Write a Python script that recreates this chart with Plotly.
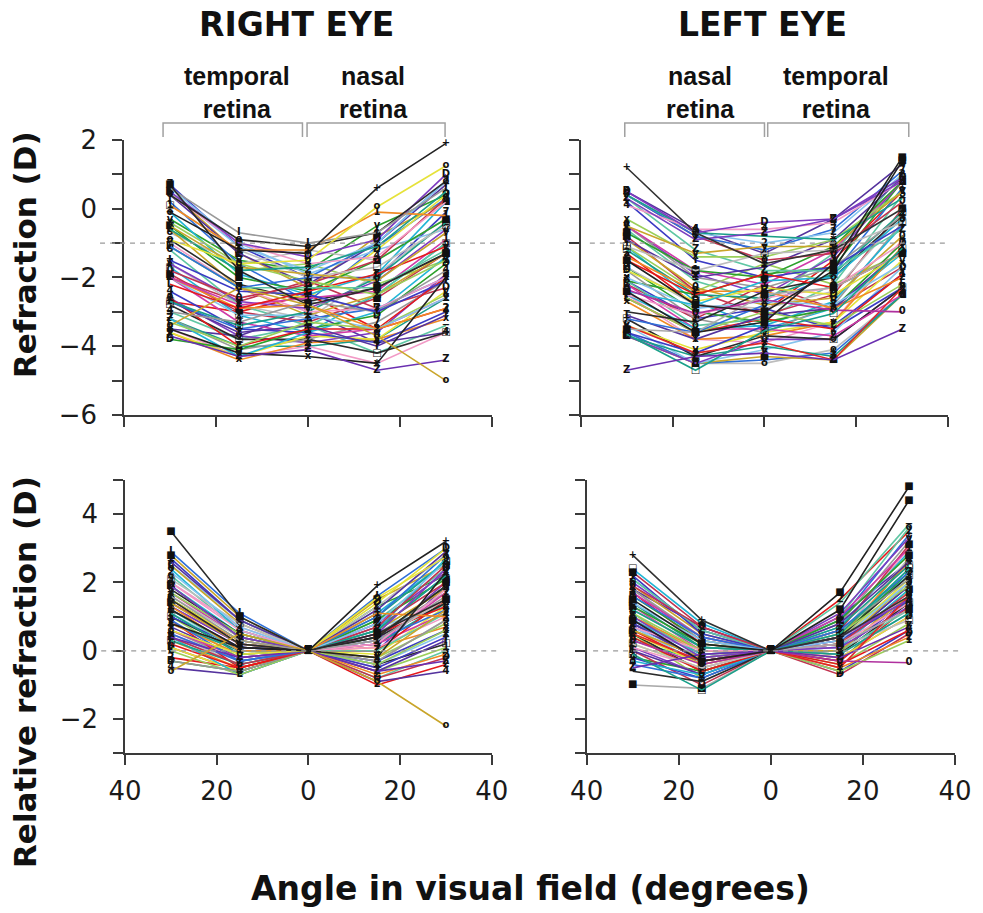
import plotly.graph_objects as go

# Measurement angles in the visual field (degrees); negative = left side of the plot
ANGLES = [-30, -15, 0, 15, 30]
ANGLE_TICKS = [-40, -20, 0, 20, 40]
ANGLE_LABELS = ["40", "20", "0", "20", "40"]

# ---- Right eye: refraction (D) per subject at each angle ----
right_m30 = [-0.1, -0.9, -3.4, -3.7, 0.7, -3.5, 0.6, 0.4, 0.1, 0.5, 0.4, -0.6, 0.5, -0.5, -1.1, 0.1,
             -0.4, -1.8, 0.4, -1.1, -2.2, -0.5, -1.5, -0.1, -2.0, -1.1, -3.0, -0.9, -2.0, -1.6, -1.0, -2.7,
             -2.0, -0.6, -2.7, -1.6, -3.3, -1.9, -2.7, -1.2, -2.6, -3.8, -2.4, -3.2, -2.0, -3.6, -3.2, -2.8,
             -3.6, -2.6, -3.5, -3.2, 0.6, 0.5, 0.2, -0.7, -0.6, -2.0, -3.5, -3.0, -2.7, -0.3, 0.7, -1.7]
right_m15 = [-1.2, -1.6, -2.3, -4.3, -1.8, -4.2, -0.7, -0.9, -1.2, -1.0, -1.0, -1.8, -1.1, -1.7, -2.3, -1.2,
             -1.6, -2.6, -1.3, -2.3, -2.9, -2.0, -2.4, -1.9, -2.8, -2.3, -3.3, -2.2, -2.9, -2.7, -2.3, -3.4,
             -3.1, -2.3, -3.5, -2.8, -4.0, -3.0, -3.6, -2.8, -4.0, -4.1, -3.5, -4.3, -3.3, -4.3, -4.1, -3.8,
             -4.4, -3.7, -4.3, -4.0, -1.0, -1.3, -1.6, -1.6, -1.8, -2.7, -3.7, -3.8, -3.0, -1.5, -1.1, -3.1]
right_c0 = [-1.3, -1.5, -2.8, -4.1, -2.8, -4.3, -1.0, -1.1, -1.2, -1.4, -1.6, -1.7, -1.8, -1.9, -2.0, -2.0,
            -2.1, -2.2, -2.2, -2.3, -2.4, -2.4, -2.5, -2.5, -2.6, -2.6, -2.7, -2.7, -2.8, -2.9, -3.0, -3.0,
            -3.1, -3.1, -3.2, -3.2, -3.3, -3.3, -3.4, -3.4, -3.5, -3.5, -3.6, -3.6, -3.7, -3.7, -3.8, -3.8,
            -3.9, -3.9, -4.0, -4.0, -1.9, -2.3, -2.7, -1.2, -1.6, -2.1, -3.0, -3.4, -2.5, -1.8, -2.0, -3.6]
right_p15 = [0.6, 0.05, -3.7, -4.7, -2.3, -4.5, -0.7, -0.7, -0.1, -0.9, -1.4, -1.1, -1.0, -2.1, -1.0, -1.7,
             -2.5, -1.5, -1.0, -2.3, -1.9, -1.5, -3.0, -1.9, -2.4, -1.2, -3.0, -2.3, -3.5, -2.1, -2.9, -2.0,
             -3.5, -2.5, -2.9, -1.9, -3.5, -2.6, -4.0, -2.5, -3.5, -3.1, -3.9, -3.0, -3.5, -3.8, -3.3, -4.2,
             -3.8, -3.6, -4.5, -3.8, -1.2, -0.8, -1.1, -1.5, -2.2, -2.9, -3.9, -4.2, -3.5, -0.5, -2.0, -2.5]
right_p30 = [1.9, 1.25, -5.0, -4.4, -1.3, -2.0, 0.6, 0.8, -0.2, 1.0, 0.2, 0.5, 0.8, -0.7, 0.8, -0.5,
             -1.5, 0.3, 0.7, -1.2, -1.1, -0.3, -2.1, 0.2, -0.9, 0.4, -1.8, -1.3, -2.9, -0.6, -2.0, -0.4,
             -2.6, -1.3, -2.0, -0.4, -2.5, -1.3, -3.1, -1.0, -2.0, -1.6, -3.0, -1.4, -2.6, -2.4, -2.1, -3.6,
             -3.2, -1.9, -3.6, -2.6, -0.6, 0.2, 0.3, -0.3, -1.5, -2.3, -3.6, -3.4, -2.9, 0.4, -0.1, -1.0]

# ---- Left eye: refraction (D) per subject at each angle ----
left_m30 = [1.2, -2.4, -1.5, -4.7, -3.65, 0.3, -3.5, -2.35, -3.4, 0.5, 0.1, 0.4, 0.4, -0.5, 0.4, -1.1,
            -0.3, 0.4, -0.9, 0.3, -1.5, -0.7, 0.2, -2.4, -0.5, -1.8, -0.5, -3.0, -1.4, -0.5, -2.5, -1.2,
            -2.0, -0.9, -3.2, -1.7, -2.6, -0.8, -3.1, -2.1, -2.6, -1.7, -3.6, -2.5, -2.2, -3.4, -1.8, -3.2,
            -2.7, -3.7, -2.5, -3.7, -3.4, -3.7, -3.6, -3.6, -1.1, -2.2, 0.5, -0.6, -1.3, -2.1, -2.1, -1.1]
left_m15 = [-0.7, -3.6, -2.8, -4.3, -4.7, -0.9, -3.6, -3.05, -4.2, -0.7, -0.6, -0.7, -0.7, -1.3, -0.8, -1.8,
            -1.4, -0.8, -2.0, -1.2, -2.5, -1.8, -1.5, -2.8, -1.8, -2.7, -2.0, -3.3, -2.4, -1.9, -3.1, -2.5,
            -2.9, -2.3, -3.6, -2.8, -3.6, -2.4, -3.8, -3.4, -3.6, -3.0, -4.2, -3.5, -3.5, -4.1, -3.2, -4.3,
            -3.8, -4.5, -3.8, -4.3, -4.5, -4.5, -4.5, -4.5, -2.4, -3.2, -0.6, -2.1, -2.8, -2.5, -3.2, -2.7]
left_c0 = [-1.6, -3.3, -3.0, -4.2, -3.55, -0.7, -2.5, -2.65, -3.9, -0.4, -0.6, -0.8, -1.0, -1.1, -1.2, -1.3,
           -1.4, -1.5, -1.7, -1.8, -1.9, -2.0, -2.0, -2.1, -2.2, -2.3, -2.3, -2.4, -2.4, -2.5, -2.6, -2.6,
           -2.7, -2.8, -2.8, -2.9, -3.0, -3.1, -3.1, -3.2, -3.2, -3.3, -3.4, -3.4, -3.5, -3.6, -3.6, -3.7,
           -3.7, -3.8, -3.9, -4.0, -4.1, -4.3, -4.4, -4.5, -1.6, -2.2, -1.3, -2.7, -3.0, -1.9, -2.9, -3.5]
left_p15 = [-1.2, -1.6, -1.8, -4.4, -3.05, -0.3, -2.3, -2.95, -4.4, -0.3, -0.4, -0.9, -0.7, -1.1, -0.6, -1.2,
            -0.9, -1.3, -0.9, -1.8, -2.3, -1.1, -1.7, -2.0, -1.2, -2.5, -1.7, -2.0, -2.9, -1.4, -2.3, -1.9,
            -2.8, -2.6, -1.9, -2.4, -3.4, -2.5, -2.9, -2.2, -3.5, -2.9, -3.4, -2.7, -3.7, -3.3, -2.8, -3.8,
            -3.3, -3.8, -3.3, -4.3, -3.6, -4.4, -4.2, -4.1, -2.2, -2.9, -0.3, -1.3, -1.5, -1.7, -3.5, -2.9]
left_p30 = [0.0, 1.5, 1.4, -3.5, -1.15, 0.8, -1.3, -3.0, -2.3, 0.9, 0.8, 0.3, 1.0, 0.5, 1.1, -0.4,
            0.5, 0.2, 0.9, -0.6, -1.3, 0.8, -0.5, -0.3, 0.8, -1.3, -0.2, -0.2, -2.0, 0.8, -1.0, -0.1,
            -1.6, -0.8, 0.6, -0.2, -2.2, 0.0, -1.2, 0.4, -1.9, -1.0, -1.9, -0.5, -2.5, -1.5, -0.4, -2.3,
            -1.1, -2.3, -0.9, -2.5, -1.7, -2.5, -2.5, -2.5, -1.3, -1.7, 1.3, 1.0, 0.5, 0.8, -2.3, -1.3]

# ---- Styling ----
PALETTE = ["#E41A1C", "#2CA02C", "#3B3BC4", "#22B5D5", "#D03AA8", "#E3E33A", "#999999", "#2B2B2B",
           "#F08A24", "#7E3BC0", "#F29AC6", "#1A9E88", "#86C4EE", "#C9A52A", "#2F6FD8", "#BDBDBD",
           "#9BCF5A", "#C2334F", "#55339E", "#5FC7A4"]
MARKS = ["x", "0", "+", "Z", "L", "■", "I", "o", "1", "D", "4", "−", "2", "v", "7", "□"]

RIGHT_STYLE = {0: ("#222222", "+"), 1: ("#E6E23A", "o"), 2: ("#C9A52A", "o"), 3: ("#6A2FB0", "Z"),
               4: ("#2B2B2B", "■"), 5: ("#222222", "x")}
LEFT_STYLE = {0: ("#333333", "+"), 1: ("#222222", "■"), 2: ("#222222", "■"), 3: ("#6A2FB0", "Z"),
              4: ("#1AA08A", "□"), 5: ("#7B3FC0", "Z"), 6: ("#AAAAAA", "■"), 7: ("#B0309E", "0"),
              8: ("#E02828", "x")}

AXIS_COLOR = "#3a3a3a"
BOLD_FONT = "DejaVu Sans"

# Panel domains (paper fractions)
X_DOM = {"tl": [0.1261, 0.5005], "tr": [0.5907, 0.9647], "bl": [0.1272, 0.5002], "br": [0.5968, 0.9715]}
Y_TOP = [0.5455, 0.8467]
Y_BOT = [0.1749, 0.4743]
TOP_RANGE = [-6, 2]
BOT_RANGE = [-3, 5]

fig = go.Figure()


def add_eye(cols, styles, top_axes, bot_axes):
    m30, m15, c0, p15, p30 = cols
    n = len(c0)
    for i in reversed(range(n)):
        color, mark = styles.get(i, (PALETTE[i % len(PALETTE)], MARKS[i % len(MARKS)]))
        refr = [m30[i], m15[i], c0[i], p15[i], p30[i]]
        rel = [round(v - c0[i], 3) for v in refr]
        for yvals, (xa, ya) in ((refr, top_axes), (rel, bot_axes)):
            fig.add_trace(go.Scatter(
                x=ANGLES, y=yvals, mode="lines+text", text=[mark] * len(ANGLES),
                textposition="middle center",
                textfont=dict(size=10, color="#111111", family="DejaVu Sans", weight="bold"),
                line=dict(color=color, width=1.6),
                xaxis=xa, yaxis=ya, showlegend=False, hoverinfo="skip", cliponaxis=False,
            ))


add_eye((right_m30, right_m15, right_c0, right_p15, right_p30), RIGHT_STYLE, ("x", "y"), ("x3", "y3"))
add_eye((left_m30, left_m15, left_c0, left_p15, left_p30), LEFT_STYLE, ("x2", "y2"), ("x4", "y4"))


def xaxis_style(domain, anchor, labels):
    return dict(domain=domain, anchor=anchor, range=[-40, 40], showline=True, linecolor=AXIS_COLOR,
                linewidth=1.5, ticks="outside", ticklen=10, tickwidth=1.5, tickcolor=AXIS_COLOR,
                tickvals=ANGLE_TICKS, ticktext=ANGLE_LABELS, showticklabels=labels,
                tickfont=dict(family="DejaVu Sans", size=26, color="#1a1a1a"), ticklabelstandoff=4,
                showgrid=False, zeroline=False, fixedrange=True, automargin=False)


def yaxis_style(domain, anchor, rng, labels):
    vals = list(range(rng[0], rng[1] + 1))
    text = [("−" + str(-v) if v < 0 else str(v)) if v % 2 == 0 else "" for v in vals]
    return dict(domain=domain, anchor=anchor, range=rng, showline=True, linecolor=AXIS_COLOR,
                linewidth=1.5, ticks="outside", ticklen=10, tickwidth=1.5, tickcolor=AXIS_COLOR,
                tickvals=vals, ticktext=text, showticklabels=labels,
                tickfont=dict(family="DejaVu Sans", size=26, color="#1a1a1a"), ticklabelstandoff=10,
                showgrid=False, zeroline=False, fixedrange=True, automargin=False)


fig.update_layout(
    template="none",
    width=983, height=913, margin=dict(l=0, r=0, t=0, b=0, pad=0, autoexpand=False),
    paper_bgcolor="white", plot_bgcolor="white",
    xaxis=xaxis_style(X_DOM["tl"], "y", False),
    xaxis2=xaxis_style(X_DOM["tr"], "y2", False),
    xaxis3=xaxis_style(X_DOM["bl"], "y3", True),
    xaxis4=xaxis_style(X_DOM["br"], "y4", True),
    yaxis=yaxis_style(Y_TOP, "x", TOP_RANGE, True),
    yaxis2=yaxis_style(Y_TOP, "x2", TOP_RANGE, False),
    yaxis3=yaxis_style(Y_BOT, "x3", BOT_RANGE, True),
    yaxis4=yaxis_style(Y_BOT, "x4", BOT_RANGE, False),
)


def px(dom, v):
    return dom[0] + (v + 40) / 80 * (dom[1] - dom[0])


def py(dom, rng, v):
    return dom[0] + (v - rng[0]) / (rng[1] - rng[0]) * (dom[1] - dom[0])


shapes = []
# Dashed reference lines (-1 D for refraction, 0 D for relative refraction)
for key, ydom, rng, yv, x0, x1 in (("tl", Y_TOP, TOP_RANGE, -1, -45.2, 41.1),
                                    ("tr", Y_TOP, TOP_RANGE, -1, -38.0, 40.0),
                                    ("bl", Y_BOT, BOT_RANGE, 0, -45.2, 41.1),
                                    ("br", Y_BOT, BOT_RANGE, 0, -38.6, 40.7)):
    yy = py(ydom, rng, yv)
    shapes.append(dict(type="line", xref="paper", yref="paper", x0=px(X_DOM[key], x0), x1=px(X_DOM[key], x1),
                       y0=yy, y1=yy, line=dict(color="#9a9a9a", width=1.2, dash="5px,5px")))

# Retina brackets above the refraction panels
BR_TOP = 1 - 123 / 913
BR_LEG = 1 - 137 / 913
for key, spans in (("tl", [(-31.5, -1.2), (-0.2, 29.8)]), ("tr", [(-30.4, 0.0), (0.7, 31.4)])):
    for a, b in spans:
        xa, xb = px(X_DOM[key], a), px(X_DOM[key], b)
        shapes.append(dict(type="path", xref="paper", yref="paper",
                           path=f"M {xa},{BR_LEG} L {xa},{BR_TOP} L {xb},{BR_TOP} L {xb},{BR_LEG}",
                           line=dict(color="#a0a0a0", width=1.5)))
fig.update_layout(shapes=shapes)

annotations = [
    dict(text="<b>RIGHT EYE</b>", x=296 / 983, y=1 - 25 / 913, font=dict(family=BOLD_FONT, size=33, color="#111")),
    dict(text="<b>LEFT EYE</b>", x=762 / 983, y=1 - 25 / 913, font=dict(family=BOLD_FONT, size=33, color="#111")),
    dict(text="<b>temporal<br>retina</b>", x=237 / 983, y=1 - 92 / 913,
         font=dict(family="Liberation Sans", size=25, color="#111")),
    dict(text="<b>nasal<br>retina</b>", x=373 / 983, y=1 - 92 / 913,
         font=dict(family="Liberation Sans", size=25, color="#111")),
    dict(text="<b>nasal<br>retina</b>", x=700 / 983, y=1 - 92 / 913,
         font=dict(family="Liberation Sans", size=25, color="#111")),
    dict(text="<b>temporal<br>retina</b>", x=836 / 983, y=1 - 92 / 913,
         font=dict(family="Liberation Sans", size=25, color="#111")),
    dict(text="<b>Refraction (D)</b>", x=25 / 983, y=1 - 255 / 913, textangle=-90,
         font=dict(family=BOLD_FONT, size=31, color="#111")),
    dict(text="<b>Relative refraction (D)</b>", x=25 / 983, y=1 - 672 / 913, textangle=-90,
         font=dict(family=BOLD_FONT, size=31, color="#111")),
    dict(text="<b>Angle in visual field (degrees)</b>", x=530 / 983, y=1 - 888 / 913,
         font=dict(family=BOLD_FONT, size=33, color="#111")),
]
for a in annotations:
    a.update(xref="paper", yref="paper", showarrow=False, xanchor="center", yanchor="middle")
fig.update_layout(annotations=annotations)

fig.write_html("out.html")
